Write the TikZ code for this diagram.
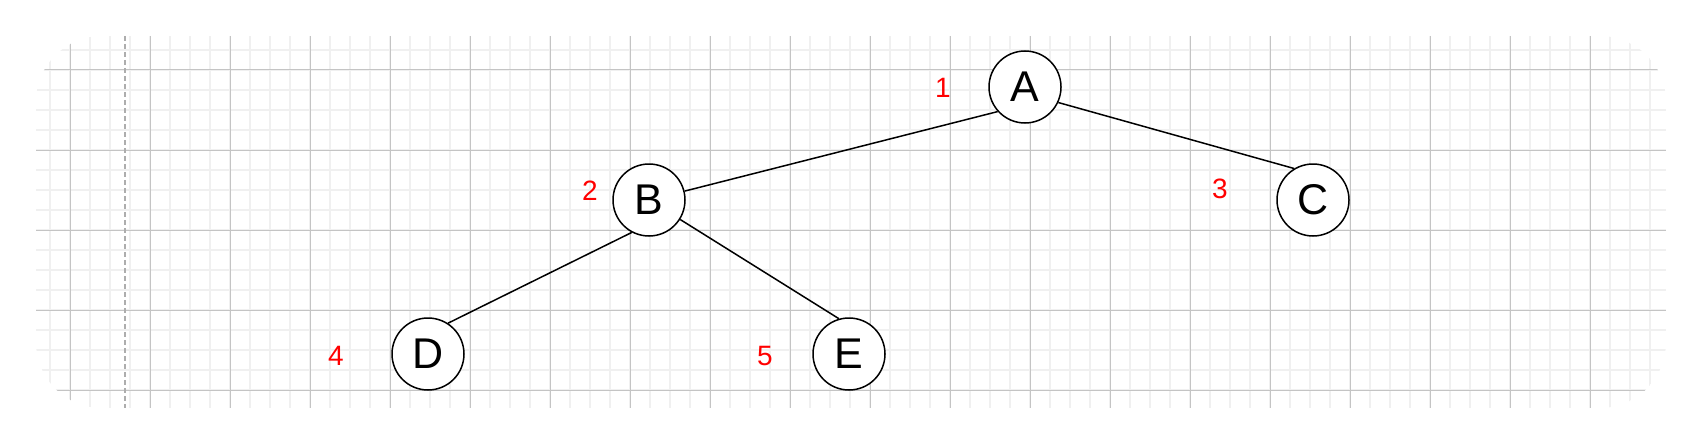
\documentclass[tikz,border=0pt]{standalone}
\usepackage{fontspec}
\setmainfont{Liberation Sans}
\definecolor{minorgrid}{HTML}{F0F0F0}
\definecolor{majorgrid}{HTML}{C4C4C4}
\definecolor{dashgray}{HTML}{ADADAD}
\begin{document}
\begin{tikzpicture}[x=1pt,y=-1pt,
  treenode/.style={circle,draw=black,line width=1.5pt,fill=white,minimum size=72pt,inner sep=0pt,font=\fontsize{43}{43}\selectfont},
  numlabel/.style={text=red,font=\fontsize{28}{28}\selectfont,inner sep=0pt},
  link/.style={draw=black,line width=1.5pt},
  minorline/.style={draw=minorgrid,line width=1.6pt},
  majorline/.style={draw=majorgrid,line width=1pt},
  guide/.style={draw=dashgray,line width=1.5pt,dash pattern=on 5pt off 3pt}]
\useasboundingbox (0,0) rectangle (1702,444);
\begin{scope}
  \clip[rounded corners=66pt] (36,36) rectangle (1666,408);
  \foreach \x in {50,70,...,1650} \draw[minorline] (\x,36) -- (\x,408);
  \foreach \y in {50,70,...,390} \draw[minorline] (36,\y) -- (1666,\y);
  \foreach \x in {70,150,...,1590} \draw[majorline] (\x,36) -- (\x,408);
  \foreach \y in {70,150,...,390} \draw[majorline] (36,\y) -- (1666,\y);
\end{scope}
\coordinate (gtop) at (125,36);
\coordinate (gbot) at (125,408);
\draw[guide] (gtop) -- (gbot);

\node[treenode] (A) at (1025,87) {A};
\node[treenode] (B) at (649,200) {B};
\node[treenode] (C) at (1313,200) {C};
\node[treenode] (D) at (428,354) {D};
\node[treenode] (E) at (849,354) {E};

\node[numlabel] (l1) at (943,88) {1};
\node[numlabel] (l2) at (590,191) {2};
\node[numlabel] (l3) at (1220,189) {3};
\node[numlabel] (l4) at (336,356) {4};
\node[numlabel] (l5) at (765,356) {5};

\draw[link] (A.222.5) -- (B.14);
\draw[link] (A.335) -- (C.121.4);
\draw[link] (B.242) -- (D.57);
\draw[link] (B.328.5) -- (E.106.7);
\end{tikzpicture}
\end{document}
